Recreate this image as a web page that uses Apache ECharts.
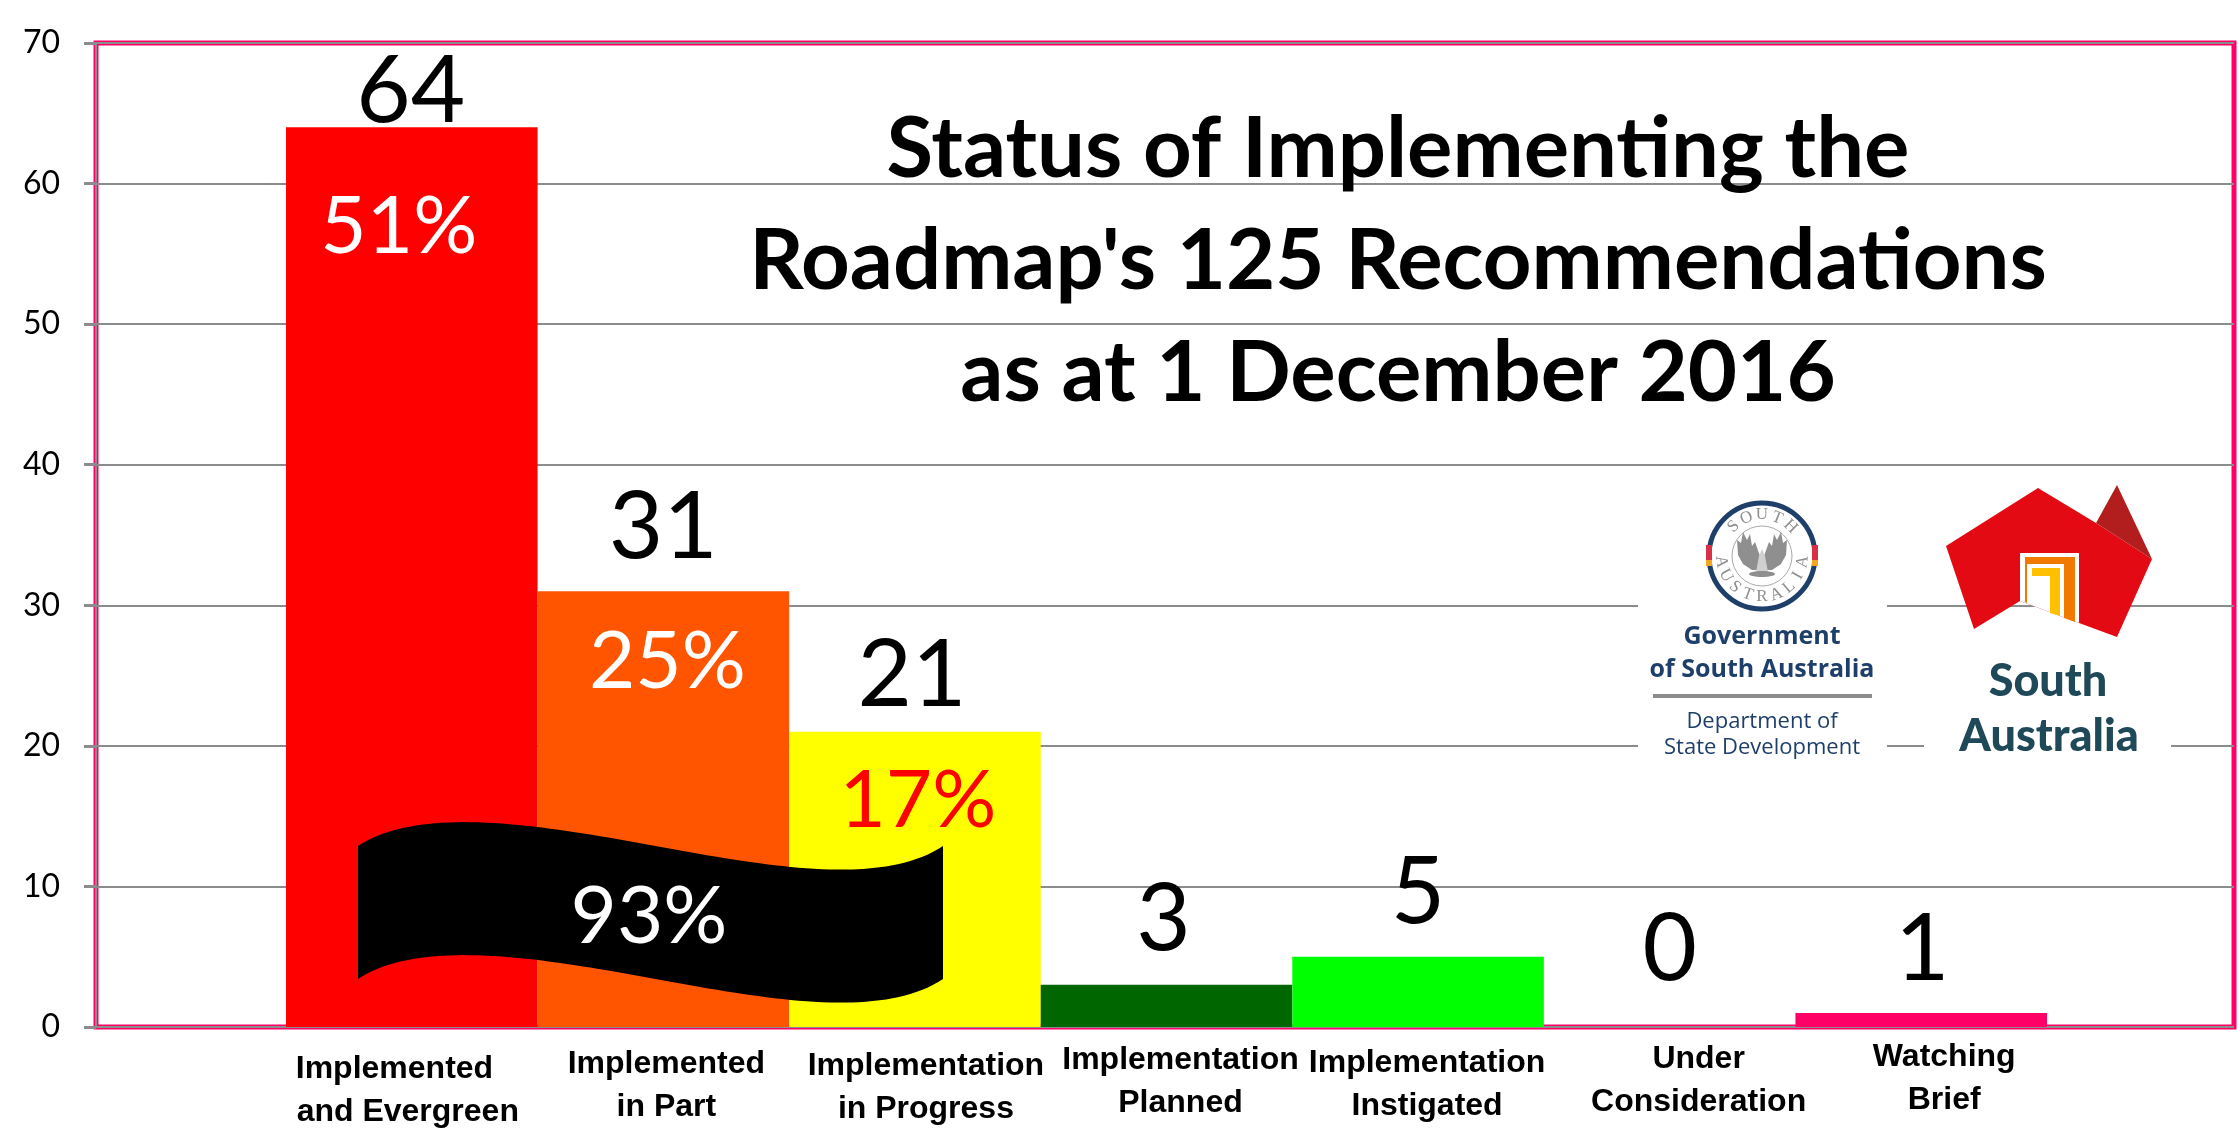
<!DOCTYPE html>
<html>
<head>
<meta charset="utf-8">
<title>Status of Implementing the Roadmap</title>
<script src="https://cdn.jsdelivr.net/npm/echarts@6/dist/echarts.min.js"></script>
<style>
    html, body { margin: 0; padding: 0; background: #fff; }
    #chart { width: 2240px; height: 1139px; }
</style>
</head>
<body>
<div id="chart"></div>
<script>
const categories = [
    'Implemented\nand Evergreen',
    'Implemented\nin Part',
    'Implementation\nin Progress',
    'Implementation\nPlanned',
    'Implementation\nInstigated',
    'Under\nConsideration',
    'Watching\nBrief'
];
const counts = [64, 31, 21, 3, 5, 0, 1];
const percents = ['51%', '25%', '17%', '', '', '', ''];
const ribbonLabel = '93%';
const yTicks = { min: 0, max: 70, step: 10 };
const titleLines = ['Status of Implementing the', "Roadmap's 125 Recommendations", 'as at 1 December 2016'];

// styling per bar, the labels in the original were placed by hand
const barColors = ['#ff0000', '#ff5500', '#ffff00', '#006600', '#00ff00', '#ff0066', '#ff0066'];
const percentColors = ['#ffffff', '#ffffff', '#ff0000'];
const countGaps = [-11, 17, 9, 18, 17, 30, 16];
const countShiftX = [-1, 0, -3, -3, 0, 0, 1];
const percentShift = [[-13, 55], [4, 26], [3, 24]];
const catShift = [[-4, 12], [3, 7], [11, 9], [14, 3], [9, 6], [29, 2], [23, 0]];

const chart = echarts.init(document.getElementById('chart'));

const navy = '#1f3f6b';
const teal = '#1f4858';
const sealGrey = '#8f8f8f';
const sealX = 1762, sealY = 556;

function txt(text, x, y, size, weight, fill, font) {
    return {
        type: 'text', z: 110, x: x, y: y,
        style: {
            text: text, fill: fill, align: 'center', verticalAlign: 'middle',
            font: weight + ' ' + size + 'px ' + (font || '"Open Sans"')
        }
    };
}

function poly(points, fill, z) {
    return { type: 'polygon', z: z || 105, shape: { points: points }, style: { fill: fill } };
}

// letters of the seal, one by one around the ring
function arcLetters(word, from, to, flip) {
    return word.split('').map((ch, i) => {
        const a = (from + (to - from) * i / (word.length - 1)) * Math.PI / 180;
        return {
            type: 'text', z: 110,
            x: sealX + 41 * Math.sin(a),
            y: sealY - 41 * Math.cos(a),
            rotation: flip ? -(a - Math.PI) : -a,
            style: {
                text: ch, fill: sealGrey, align: 'center', verticalAlign: 'middle',
                font: '17px "Liberation Serif"'
            }
        };
    });
}

// one edge of the wavy banner, as points along two cubic curves
function waveEdge(dy) {
    const curves = [
        [[358, 846], [420, 805], [540, 825], [650, 845]],
        [[650, 845], [760, 865], [880, 888], [943, 846]]
    ];
    const pts = [];
    curves.forEach((c) => {
        for (let k = 0; k <= 40; k++) {
            const t = k / 40, u = 1 - t;
            const w = [u * u * u, 3 * u * u * t, 3 * u * t * t, t * t * t];
            pts.push([
                w[0] * c[0][0] + w[1] * c[1][0] + w[2] * c[2][0] + w[3] * c[3][0],
                w[0] * c[0][1] + w[1] * c[1][1] + w[2] * c[2][1] + w[3] * c[3][1] + dy
            ]);
        }
    });
    return pts;
}

const logos = [
    // white boxes that break the grid lines behind the logos
    { type: 'rect', z: 101, shape: { x: 1638, y: 490, width: 249, height: 285 }, style: { fill: '#fff' } },
    { type: 'rect', z: 101, shape: { x: 1924, y: 640, width: 247, height: 135 }, style: { fill: '#fff' } },

    // seal
    { type: 'circle', z: 105, shape: { cx: sealX, cy: sealY, r: 53 }, style: { fill: '#fff', stroke: navy, lineWidth: 5 } },
    { type: 'circle', z: 106, shape: { cx: sealX, cy: sealY, r: 30 }, style: { fill: '#fff', stroke: '#a9a9a9', lineWidth: 1 } },
    { type: 'rect', z: 106, shape: { x: 1706, y: 545, width: 6, height: 15 }, style: { fill: '#d9304a' } },
    { type: 'rect', z: 106, shape: { x: 1706, y: 560, width: 6, height: 6 }, style: { fill: '#f2a51f' } },
    { type: 'rect', z: 106, shape: { x: 1812, y: 545, width: 6, height: 15 }, style: { fill: '#d9304a' } },
    { type: 'rect', z: 106, shape: { x: 1812, y: 560, width: 6, height: 6 }, style: { fill: '#f2a51f' } },
    poly([[1760, 556], [1755, 542], [1752, 546], [1750, 534], [1747, 540], [1743, 532], [1741, 543], [1737, 540], [1738, 555], [1743, 564], [1752, 570], [1757, 570]], sealGrey, 107),
    poly([[1764, 556], [1769, 542], [1772, 546], [1774, 534], [1777, 540], [1781, 532], [1783, 543], [1787, 540], [1786, 555], [1781, 564], [1772, 570], [1767, 570]], sealGrey, 107),
    poly([[1756, 572], [1759, 556], [1762, 549], [1765, 556], [1768, 572]], '#d0d0d0', 108),
    { type: 'ellipse', z: 108, shape: { cx: 1762, cy: 574, rx: 13, ry: 3 }, style: { fill: sealGrey } },
    ...arcLetters('SOUTH', -44, 44, false),
    ...arcLetters('AUSTRALIA', 262, 98, true),

    txt('Government', 1762, 637, 25, 'bold', navy),
    txt('of South Australia', 1762, 670, 25, 'bold', navy),
    { type: 'rect', z: 105, shape: { x: 1653, y: 694, width: 219, height: 4 }, style: { fill: '#8c8c8c' } },
    txt('Department of', 1762, 722, 22, 'normal', navy),
    txt('State Development', 1762, 748, 22, 'normal', navy),

    // South Australia brand mark
    poly([[1946, 546], [2038, 488], [2096, 523], [2152, 559], [2117, 637], [2079, 623], [2020, 601], [1974, 629]], '#e30a13'),
    poly([[2096, 523], [2117, 485], [2152, 559]], '#b21e1e'),
    poly([[2020, 553], [2079, 553], [2079, 623], [2020, 601]], '#ffffff', 106),
    poly([[2025, 557], [2075, 557], [2075, 622], [2064, 618], [2064, 564], [2027, 564], [2027, 603], [2025, 602]], '#f27900', 107),
    poly([[2032, 568], [2060, 568], [2060, 616], [2050, 613], [2050, 576], [2032, 576]], '#ffc000', 107),
    txt('South', 2048, 681, 45, '900', teal, 'Lato'),
    txt('Australia', 2049, 736, 45, '900', teal, 'Lato')
];

const ribbon = [
    {
        type: 'polygon', z: 120,
        shape: { points: waveEdge(0).concat(waveEdge(133).reverse()) },
        style: { fill: '#000' }
    },
    {
        type: 'text', z: 121, x: 649, y: 917,
        style: {
            text: ribbonLabel, fill: '#fff', align: 'center', verticalAlign: 'middle',
            font: '80px Lato'
        }
    }
];

chart.setOption({
    animation: false,
    backgroundColor: '#fff',
    title: {
        text: titleLines.join('\n'),
        left: 1393,
        top: 89,
        textAlign: 'center',
        textStyle: { fontFamily: 'Lato', fontWeight: 'bold', fontSize: 85, lineHeight: 112, color: '#000' }
    },
    grid: [
        { left: 96, right: 6, top: 43, bottom: 112, show: true, borderColor: '#ff0066', borderWidth: 5, backgroundColor: '#fff' },
        { left: 286, right: 193, top: 43, bottom: 112 }
    ],
    xAxis: [
        { gridIndex: 0, type: 'value', min: 0, max: 1, show: false },
        {
            gridIndex: 1,
            type: 'category',
            data: categories.map((c, i) => {
                const dx = catShift[i][0];
                return {
                    value: c,
                    textStyle: {
                        padding: [catShift[i][1], dx < 0 ? -2 * dx : 0, 0, dx > 0 ? 2 * dx : 0]
                    }
                };
            }),
            axisLine: { show: false },
            axisTick: { show: false },
            axisLabel: {
                interval: 0,
                margin: 9,
                fontFamily: '"Liberation Sans"',
                fontWeight: 'bold',
                fontSize: 32,
                lineHeight: 43,
                color: '#000',
                formatter: (v) => v.replace('Implemented\nand', 'Implemented\u00a0\u00a0\u00a0\nand')
            }
        }
    ],
    yAxis: [
        {
            gridIndex: 0,
            type: 'value',
            min: yTicks.min,
            max: yTicks.max,
            interval: yTicks.step,
            axisLine: { show: true, lineStyle: { color: '#8c8c8c', width: 2 } },
            axisTick: { show: true, length: 12, lineStyle: { color: '#8c8c8c', width: 3 } },
            axisLabel: { margin: 36, fontFamily: 'Lato', fontSize: 32, color: '#000' },
            splitLine: { show: true, lineStyle: { color: '#8c8c8c', width: 2 } }
        },
        { gridIndex: 1, type: 'value', min: yTicks.min, max: yTicks.max, interval: yTicks.step, show: false }
    ],
    series: [
        {
            name: 'Recommendations',
            type: 'bar',
            xAxisIndex: 1,
            yAxisIndex: 1,
            barCategoryGap: 0,
            barGap: '-100%',
            data: counts.map((v, i) => ({
                value: v,
                itemStyle: { color: barColors[i] },
                label: { distance: countGaps[i], offset: [countShiftX[i], 0] }
            })),
            label: {
                show: true,
                position: 'top',
                fontFamily: 'Lato',
                fontSize: 94,
                color: '#000'
            }
        },
        {
            name: 'Share',
            type: 'bar',
            xAxisIndex: 1,
            yAxisIndex: 1,
            barCategoryGap: 0,
            barGap: '-100%',
            itemStyle: { color: 'rgba(0,0,0,0)' },
            data: counts.map((v, i) => ({
                value: v,
                label: percents[i] ? {
                    show: true,
                    formatter: percents[i],
                    color: percentColors[i],
                    offset: [percentShift[i][0], percentShift[i][1]]
                } : { show: false }
            })),
            label: {
                position: 'insideTop',
                fontFamily: 'Lato',
                fontSize: 80
            }
        }
    ],
    graphic: logos.concat(ribbon)
});
</script>
</body>
</html>
